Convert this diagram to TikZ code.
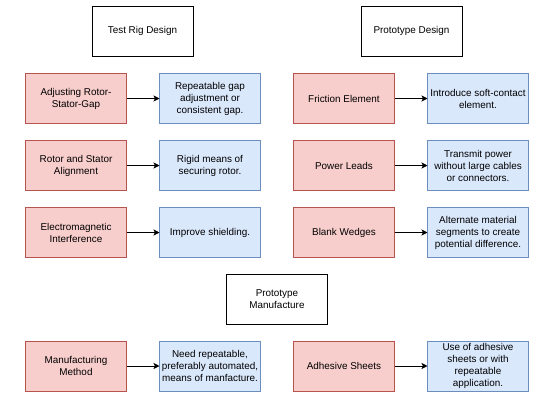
\documentclass[tikz,border=0pt]{standalone}
\usepackage{fontspec}
\setmainfont{Liberation Sans}
\usetikzlibrary{arrows.meta}
\definecolor{redfill}{HTML}{F8CECC}
\definecolor{redline}{HTML}{B85450}
\definecolor{bluefill}{HTML}{DAE8FC}
\definecolor{blueline}{HTML}{6C8EBF}
\begin{document}
\begin{tikzpicture}[x=1pt,y=-1pt,
  box/.style={minimum width=101pt,minimum height=50pt,inner sep=1pt,outer sep=0pt,align=center,
    font=\fontsize{9.9}{12}\selectfont,line width=0.9pt},
  hdr/.style={box,draw=black,fill=white},
  issue/.style={box,draw=redline,fill=redfill},
  fix/.style={box,draw=blueline,fill=bluefill},
  link/.style={draw=black,line width=0.9pt,-{Stealth[length=6pt,width=6pt,inset=1.5pt]}}]
\useasboundingbox[fill=white] (0,0) rectangle (536,392);
% headers
\node[hdr] (h1) at (142.5,31) {Test Rig Design};
\node[hdr] (h2) at (411.5,31) {Prototype Design};
\node[hdr] (h3) at (277,299) {Prototype\\Manufacture};
% left column
\node[issue] (a1) at (76,98.5) {Adjusting Rotor-\\Stator-Gap};
\node[fix] (b1) at (210,98.5) {Repeatable gap\\adjustment or\\consistent gap.};
\node[issue] (a2) at (76,165.5) {Rotor and Stator\\Alignment};
\node[fix] (b2) at (210,165.5) {Rigid means of\\securing rotor.};
\node[issue] (a3) at (76,232.5) {Electromagnetic\\Interference};
\node[fix] (b3) at (210,232.5) {Improve shielding.};
\node[issue] (a4) at (76,366) {Manufacturing\\Method};
\node[fix] (b4) at (210,366) {Need repeatable,\\preferably automated,\\means of manfacture.};
% right column
\node[issue] (c1) at (344,98.5) {Friction Element};
\node[fix] (d1) at (478,98.5) {Introduce soft-contact\\element.};
\node[issue] (c2) at (344,165.5) {Power Leads};
\node[fix] (d2) at (478,165.5) {Transmit power\\without large cables\\or connectors.};
\node[issue] (c3) at (344,232.5) {Blank Wedges};
\node[fix] (d3) at (478,232.5) {Alternate material\\segments to create\\potential difference.};
\node[issue] (c4) at (344,366) {Adhesive Sheets};
\node[fix] (d4) at (478,366) {Use of adhesive\\sheets or with\\repeatable\\application.};
% connectors
\foreach \i in {1,2,3,4}{
  \draw[link] (a\i) -- (b\i);
  \draw[link] (c\i) -- (d\i);
}
\end{tikzpicture}
\end{document}
